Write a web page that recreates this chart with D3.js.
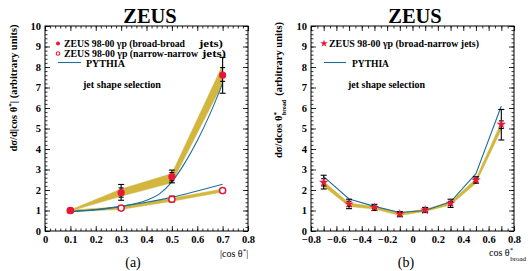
<!DOCTYPE html>
<html>
<head>
<meta charset="utf-8">
<script src="https://cdn.jsdelivr.net/npm/d3@7"></script>
<style>
  body { margin: 0; background: #fff; }
  svg { font-family: "Liberation Serif", "Times New Roman", serif; }
</style>
</head>
<body>
<div id="chart"></div>
<script>
// ---- data ----
// panel (a): |cos theta*|
var aX = [0.1, 0.3, 0.5, 0.7];
var bbY = [1.0, 1.87, 2.65, 7.6];
var bbErrLo = [0.93, 1.5, 2.35, 6.72];
var bbErrHi = [1.07, 2.27, 2.97, 8.47];
var bbStatLo = [0.96, 1.65, 2.45, 7.3];
var bbStatHi = [1.04, 2.1, 2.85, 7.97];
var bbBandLo = [0.97, 1.7, 2.35, 7.2];
var bbBandHi = [1.03, 2.05, 2.8, 8.1];

var nnY = [1.0, 1.12, 1.55, 1.97];
var nnErrLo = [0.95, 1.07, 1.42, 1.9];
var nnErrHi = [1.05, 1.17, 1.7, 2.04];
var nnBandLo = [0.95, 1.05, 1.45, 1.9];
var nnBandHi = [1.02, 1.18, 1.6, 2.05];

var pyBBX = [0.1, 0.2, 0.3, 0.4, 0.45, 0.5, 0.55, 0.6, 0.65, 0.7];
var pyBBY = [0.95, 1.03, 1.2, 1.5, 1.8, 2.4, 3.3, 4.4, 5.7, 7.2];
var pyNNX = [0.1, 0.2, 0.3, 0.4, 0.5, 0.6, 0.7];
var pyNNY = [0.95, 1.05, 1.2, 1.4, 1.64, 1.95, 2.28];

// panel (b): cos theta*_broad
var bX = [-0.7, -0.5, -0.3, -0.1, 0.1, 0.3, 0.5, 0.7];
var bnY = [2.37, 1.32, 1.15, 0.83, 1.02, 1.35, 2.48, 5.2];
var bnErrLo = [2.05, 1.09, 1.0, 0.7, 0.9, 1.15, 2.33, 4.44];
var bnErrHi = [2.72, 1.55, 1.3, 0.95, 1.15, 1.55, 2.65, 5.93];
var bnStatLo = [2.2, 1.2, 1.08, 0.76, 0.95, 1.25, 2.4, 5.0];
var bnStatHi = [2.55, 1.45, 1.22, 0.9, 1.08, 1.45, 2.58, 5.37];
var bnBandLo = [2.18, 1.2, 1.07, 0.76, 0.95, 1.27, 2.33, 4.95];
var bnBandHi = [2.42, 1.36, 1.2, 0.9, 1.06, 1.42, 2.55, 5.3];
var pyBNY = [2.65, 1.56, 1.2, 0.9, 1.0, 1.42, 2.8, 6.1];

var yTicks = [0, 1, 2, 3, 4, 5, 6, 7, 8, 9, 10];
var aTicks = [0, 0.1, 0.2, 0.3, 0.4, 0.5, 0.6, 0.7, 0.8];
var bTicks = [-0.8, -0.6, -0.4, -0.2, 0, 0.2, 0.4, 0.6, 0.8];

var bandCol = "#d2b640", red = "#e8173a", pyCol = "#1f6f97";

var svg = d3.select("#chart").append("svg")
    .attr("width", 532)
    .attr("height", 271);

function fmt(d) { return d === 0 ? "0" : d3.format(".1f")(d); }

function panel(x0, x1, xDom, xTicks, xMinStep) {
    var x = d3.scaleLinear().domain(xDom).range([x0, x1]);
    var y = d3.scaleLinear().domain([0, 10]).range([231, 26]);
    var g = svg.append("g");

    var minorX = d3.range(xDom[0], xDom[1] + 1e-9, xMinStep);
    var majorX = d3.range(xDom[0], xDom[1] + 1e-9, xMinStep * (xMinStep < 0.03 ? 5 : 2));
    var minorY = d3.range(0, 10.001, 0.2);

    // minor ticks, all four sides, inward
    g.append("g").attr("transform", "translate(0,231)")
        .call(d3.axisBottom(x).tickValues(minorX).tickSizeInner(-2.5).tickSizeOuter(0).tickFormat(""));
    g.append("g").attr("transform", "translate(0,26)")
        .call(d3.axisTop(x).tickValues(minorX).tickSizeInner(-2.5).tickSizeOuter(0).tickFormat(""));
    g.append("g").attr("transform", "translate(" + x0 + ",0)")
        .call(d3.axisLeft(y).tickValues(minorY).tickSizeInner(-2.5).tickSizeOuter(0).tickFormat(""));
    g.append("g").attr("transform", "translate(" + x1 + ",0)")
        .call(d3.axisRight(y).tickValues(minorY).tickSizeInner(-2.5).tickSizeOuter(0).tickFormat(""));

    // major ticks
    g.append("g").attr("transform", "translate(0,231)")
        .call(d3.axisBottom(x).tickValues(majorX).tickSizeInner(-5).tickSizeOuter(0).tickFormat(""));
    g.append("g").attr("transform", "translate(0,26)")
        .call(d3.axisTop(x).tickValues(majorX).tickSizeInner(-5).tickSizeOuter(0).tickFormat(""));
    g.append("g").attr("transform", "translate(" + x0 + ",0)")
        .call(d3.axisLeft(y).tickValues(yTicks).tickSizeInner(-5).tickSizeOuter(0).tickFormat(""));
    g.append("g").attr("transform", "translate(" + x1 + ",0)")
        .call(d3.axisRight(y).tickValues(yTicks).tickSizeInner(-5).tickSizeOuter(0).tickFormat(""));

    // labels
    var xl = g.append("g").attr("transform", "translate(0,231)")
        .call(d3.axisBottom(x).tickValues(xTicks).tickSize(0).tickPadding(5).tickFormat(fmt));
    var yl = g.append("g").attr("transform", "translate(" + x0 + ",0)")
        .call(d3.axisLeft(y).tickValues(yTicks).tickSize(0).tickPadding(4));
    [xl, yl].forEach(function (a) {
        a.select(".domain").remove();
        a.selectAll("text").attr("font-family", "Liberation Serif")
            .attr("font-weight", "bold").attr("font-size", "10.5px").attr("fill", "#000");
    });

    g.selectAll(".tick line").attr("stroke", "#000").attr("stroke-width", 0.8);
    g.selectAll(".domain").remove();

    g.append("rect")
        .attr("x", x0).attr("y", 26)
        .attr("width", x1 - x0).attr("height", 205)
        .attr("fill", "none").attr("stroke", "#000").attr("stroke-width", 1);

    return {g: g, x: x, y: y};
}

function band(p, xs, lo, hi) {
    var area = d3.area()
        .x(function (d, i) { return p.x(xs[i]); })
        .y0(function (d, i) { return p.y(lo[i]); })
        .y1(function (d, i) { return p.y(hi[i]); });
    p.g.append("path").datum(xs).attr("d", area)
        .attr("fill", bandCol).attr("stroke", bandCol).attr("stroke-width", 0.5);
}

function curve(p, xs, ys, smooth) {
    var line = d3.line()
        .x(function (d) { return p.x(d); })
        .y(function (d, i) { return p.y(ys[i]); });
    if (smooth) line.curve(d3.curveMonotoneX);
    p.g.append("path").datum(xs).attr("d", line)
        .attr("fill", "none").attr("stroke", pyCol).attr("stroke-width", 1.1);
}

function errs(p, xs, lo, hi, slo, shi) {
    var e = p.g.append("g").attr("stroke", "#000").attr("stroke-width", 1.1);
    xs.forEach(function (v, i) {
        var cx = p.x(v);
        e.append("line").attr("x1", cx).attr("x2", cx).attr("y1", p.y(lo[i])).attr("y2", p.y(hi[i]));
        [lo[i], hi[i]].forEach(function (t) {
            e.append("line").attr("x1", cx - 3).attr("x2", cx + 3).attr("y1", p.y(t)).attr("y2", p.y(t));
        });
        if (slo) {
            [slo[i], shi[i]].forEach(function (t) {
                e.append("line").attr("x1", cx - 2.5).attr("x2", cx + 2.5).attr("y1", p.y(t)).attr("y2", p.y(t));
            });
        }
    });
}

// ---------- panel (a) ----------
var pa = panel(45, 248, [0, 0.8], aTicks, 0.02);
band(pa, aX, bbBandLo, bbBandHi);
band(pa, aX, nnBandLo, nnBandHi);
curve(pa, pyBBX, pyBBY, true);
curve(pa, pyNNX, pyNNY, true);
errs(pa, aX, nnErrLo, nnErrHi, null, null);
errs(pa, aX, bbErrLo, bbErrHi, bbStatLo, bbStatHi);
pa.g.selectAll(".nn").data(aX).enter().append("circle")
    .attr("cx", function (d) { return pa.x(d); })
    .attr("cy", function (d, i) { return pa.y(nnY[i]); })
    .attr("r", 3.1).attr("fill", "#fff").attr("stroke", red).attr("stroke-width", 1.5);
pa.g.selectAll(".bb").data(aX).enter().append("circle")
    .attr("cx", function (d) { return pa.x(d); })
    .attr("cy", function (d, i) { return pa.y(bbY[i]); })
    .attr("r", 3.6).attr("fill", red);

// ---------- panel (b) ----------
var pb = panel(311, 514, [-0.8, 0.8], bTicks, 0.05);
band(pb, bX, bnBandLo, bnBandHi);
curve(pb, bX, pyBNY, false);
errs(pb, bX, bnErrLo, bnErrHi, bnStatLo, bnStatHi);
pb.g.selectAll(".bn").data(bX).enter().append("path")
    .attr("transform", function (d, i) { return "translate(" + pb.x(d) + "," + pb.y(bnY[i]) + ")"; })
    .attr("d", d3.symbol(d3.symbolStar, 28))
    .attr("fill", red);

// ---------- texts ----------
function txt(x, y, s, size, bold, anchor, len) {
    var t = svg.append("text").attr("x", x).attr("y", y)
        .attr("font-size", size + "px")
        .attr("font-weight", bold ? "bold" : "normal")
        .attr("text-anchor", anchor || "start")
        .text(s);
    if (len) t.attr("textLength", len).attr("lengthAdjust", "spacingAndGlyphs");
    return t;
}

txt(150, 23, "ZEUS", 20.5, true, "middle");
txt(415, 23, "ZEUS", 20.5, true, "middle");

// legend (a)
svg.append("circle").attr("cx", 58).attr("cy", 43.5).attr("r", 2).attr("fill", red);
txt(64, 47, "ZEUS 98-00 γp (broad-broad", 10.5, true, "start", 121);
txt(199, 47, "jets)", 10.5, true, "start", 24);
svg.append("circle").attr("cx", 58).attr("cy", 53.5).attr("r", 1.8)
    .attr("fill", "#fff").attr("stroke", red).attr("stroke-width", 1.1);
txt(64, 57, "ZEUS 98-00 γp (narrow-narrow", 10.5, true, "start", 134);
txt(202, 57, "jets)", 10.5, true, "start", 24);
svg.append("line").attr("x1", 58).attr("x2", 81).attr("y1", 62.5).attr("y2", 62.5)
    .attr("stroke", pyCol).attr("stroke-width", 1.1);
txt(86, 67, "PYTHIA", 10.5, true, "start", 39);
txt(83, 88, "jet shape selection", 10.5, true, "start", 78);

// legend (b)
svg.append("path").attr("transform", "translate(324,43.5)")
    .attr("d", d3.symbol(d3.symbolStar, 18)).attr("fill", red);
txt(329, 47, "ZEUS 98-00 γp (broad-narrow jets)", 10.5, true, "start", 150);
svg.append("line").attr("x1", 324).attr("x2", 346).attr("y1", 62.5).attr("y2", 62.5)
    .attr("stroke", pyCol).attr("stroke-width", 1.1);
txt(352, 67, "PYTHIA", 10.5, true, "start", 37);
txt(348, 88, "jet shape selection", 10.5, true, "start", 77);

// axis titles
var ta = txt(220, 257, "|cos θ", 10, false);
ta.append("tspan").attr("dy", -4).attr("font-size", "7px").text("*");
ta.append("tspan").attr("dy", 4).text("|");

var tb = txt(489, 256, "cos θ", 10, false);
tb.append("tspan").attr("dy", -4).attr("font-size", "7px").text("*");
tb.append("tspan").attr("dx", -3).attr("dy", 9).attr("font-size", "7px").text("broad");

var ya = svg.append("text").attr("transform", "translate(17,88) rotate(-90)")
    .attr("text-anchor", "middle").attr("font-size", "10.5px").attr("font-weight", "bold")
    .text("dσ/d|cos θ");
ya.append("tspan").attr("dy", -4).attr("font-size", "7px").text("*");
ya.append("tspan").attr("dy", 4).text("| (arbitrary units)");

var yb = svg.append("text").attr("transform", "translate(282,90) rotate(-90)")
    .attr("text-anchor", "middle").attr("font-size", "10.5px").attr("font-weight", "bold")
    .text("dσ/dcos θ");
yb.append("tspan").attr("dy", -4).attr("font-size", "7px").text("*");
yb.append("tspan").attr("dx", -3).attr("dy", 8).attr("font-size", "6px").text("broad");
yb.append("tspan").attr("dx", 4).attr("dy", -4).text("(arbitrary units)");

txt(133, 267, "(a)", 14, false, "middle");
txt(406, 267, "(b)", 14, false, "middle");
</script>
</body>
</html>
